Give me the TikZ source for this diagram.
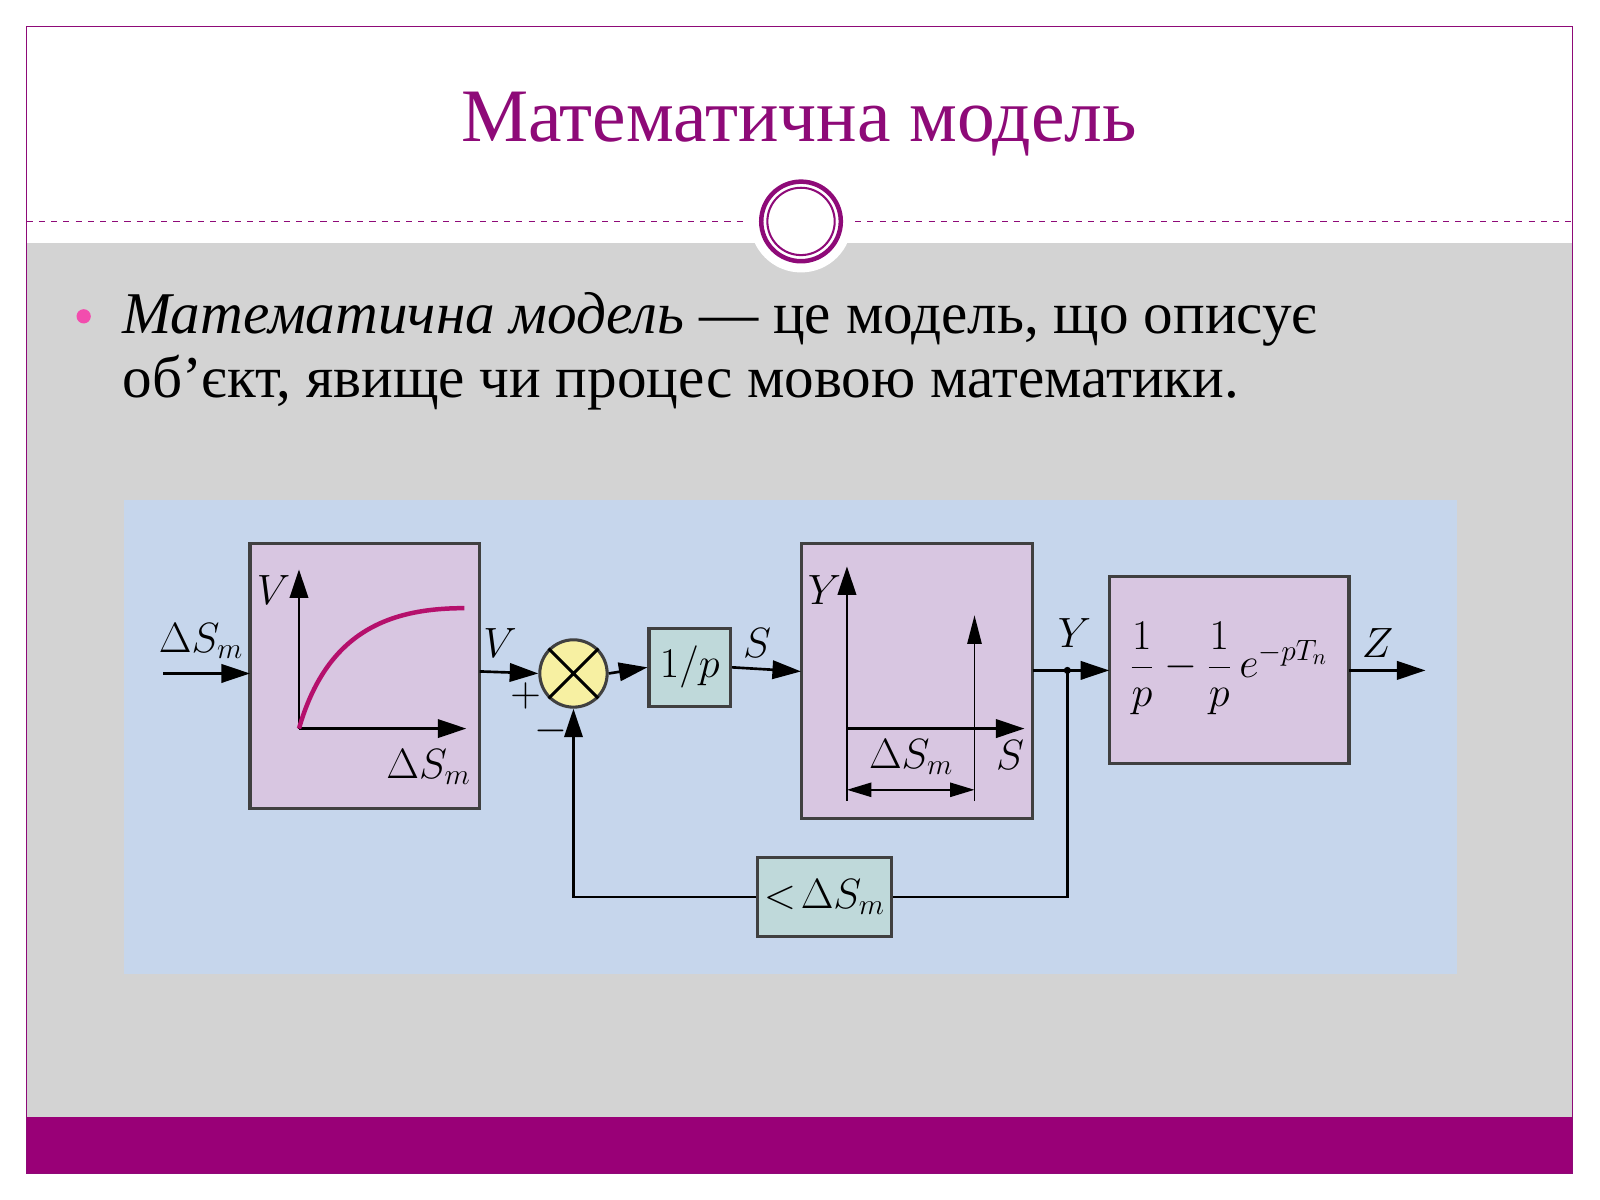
\documentclass[tikz,border=0pt]{standalone}
\usepackage{fontspec}
\setmainfont{Liberation Serif}
\usetikzlibrary{arrows.meta}
\definecolor{purp}{HTML}{8E0A78}
\definecolor{bar}{HTML}{990077}
\definecolor{grayb}{HTML}{D3D3D3}
\definecolor{diag}{HTML}{C6D6EC}
\definecolor{lil}{HTML}{D8C6E1}
\definecolor{teal}{HTML}{BFD9DA}
\definecolor{yel}{HTML}{F7F0A2}
\definecolor{mag}{HTML}{B5106C}
\tikzset{
 blk/.style={draw=black!75,line width=1.5pt,fill=lil},
 sblk/.style={draw=black!75,line width=1.5pt,fill=teal},
 wire/.style={line width=1.3pt,-{Triangle[length=14pt,width=9pt]}},
 line/.style={line width=1.3pt},
 lbl/.style={font=\fontsize{21}{24}\selectfont},
}
\begin{document}
\begin{tikzpicture}[x=0.5pt,y=-0.5pt]
\useasboundingbox (0,0) rectangle (1568,1176);
\fill[white] (0,0) rectangle (1568,1176);
\fill[grayb] (26,238) rectangle (1541,1095);
\fill[bar] (26,1095) rectangle (1541,1150);
\draw[purp,line width=0.8pt] (26,26) rectangle (1541,1150);
\node[text=purp,font=\fontsize{37}{40}\selectfont] (title) at (783,122) {Математична модель};
\draw[purp,dashed,line width=0.6pt] (26,217) -- (728,217);
\draw[purp,dashed,line width=0.6pt] (838,217) -- (1541,217);
\fill[white] (785,217) circle (50);
\draw[purp,line width=2.2pt] (785,217) circle (39);
\draw[purp,line width=1pt] (785,217) circle (33);
\fill[magenta!70] (82,310) circle (7);
\node[anchor=base west,font=\fontsize{29}{32}\selectfont] (t1) at (113,327) {\textit{Математична модель} — це модель, що описує};
\node[anchor=base west,font=\fontsize{29}{32}\selectfont] (t2) at (113,390) {об’єкт, явище чи процес мовою математики.};
% diagram
\fill[diag] (122,490) rectangle (1428,955);
\draw[blk] (245,533) rectangle (470,792);
\draw[blk] (785,533) rectangle (1012,802);
\draw[blk] (1087,565) rectangle (1322,748);
\node[sblk,minimum width=40pt,minimum height=38pt,lbl] (ip) at (676,654) {$1/p$};
\node[sblk,minimum width=57pt,minimum height=39pt,lbl] (fb) at (808,879) {$<\!\Delta S_m$};
\node[draw=black!75,line width=1.5pt,fill=yel,circle,minimum size=33pt,inner sep=0pt] (sum) at (562,660) {};
\draw[line width=1.5pt] (sum.45) -- (sum.225) (sum.135) -- (sum.315);
\coordinate (in) at (160,660);
\coordinate (b1l) at (245,660);
\coordinate (b1r) at (470,658);
\coordinate (b2l) at (785,658);
\coordinate (b2r) at (1012,657);
\coordinate (jn) at (1046,657);
\coordinate (b3l) at (1087,657);
\coordinate (b3r) at (1322,657);
\coordinate (out) at (1397,657);
\coordinate (fc1) at (1046,879);
\coordinate (fc2) at (562,879);
\draw[wire] (in) -- (b1l);
\draw[wire] (b1r) -- (sum.west);
\draw[wire] (sum.east) -- (ip.west);
\draw[wire] (ip.east) -- (b2l);
\draw[wire] (b2r) -- (b3l);
\draw[wire] (b3r) -- (out);
\draw[line] (jn) -- (fc1) -- (fb.east);
\draw[wire] (fb.west) -- (fc2) -- (sum.south);
\fill (jn) circle (3.5);
\node[lbl] (l1) at (197,628) {$\Delta S_m$};
\node[lbl] (l2) at (490,630) {$V$};
\node[lbl] (l3) at (515,682) {$+$};
\node[lbl] (l4) at (540,716) {$-$};
\node[lbl] (l5) at (742,630) {$S$};
\node[lbl] (l6) at (1053,620) {$Y$};
\node[lbl] (l7) at (1350,630) {$Z$};
\node[lbl] (l8) at (1204,655) {$\displaystyle\frac{1}{p}-\frac{1}{p}\,e^{-pT_n}$};
% box1 plot
\coordinate (o1) at (293,714);
\draw[wire] (o1) -- (293,558);
\draw[wire] (o1) -- (457,714);
\draw[mag,line width=2.2pt] (o1) .. controls (320,620) and (380,596) .. (455,596);
\node[lbl] (l9) at (268,578) {$V$};
\node[lbl] (l10) at (420,752) {$\Delta S_m$};
% box2 plot
\coordinate (o2) at (830,714);
\draw[wire] (o2) -- (830,555);
\draw[wire] (o2) -- (1004,714);
\draw[line width=0.9pt,-{Triangle[length=14pt,width=7pt]}] (955,785) -- (955,603);
\draw[line width=0.9pt] (o2) -- (830,785);
\draw[line width=0.9pt,{Triangle[length=12pt,width=7pt]}-{Triangle[length=12pt,width=7pt]}] (830,774) -- (955,774);
\node[lbl] (l11) at (808,578) {$Y$};
\node[lbl] (l12) at (990,740) {$S$};
\node[lbl] (l13) at (893,742) {$\Delta S_m$};
\end{tikzpicture}
\end{document}
